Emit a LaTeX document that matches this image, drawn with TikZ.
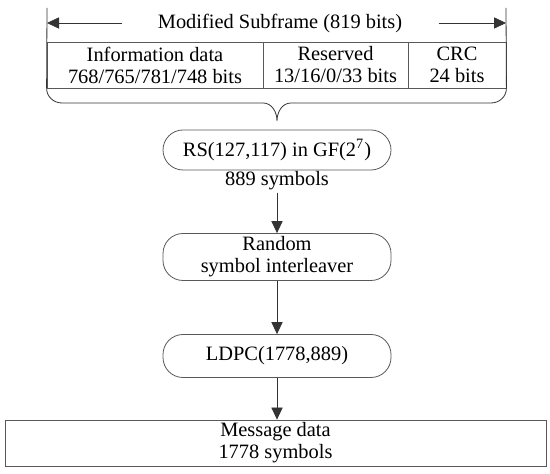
\documentclass[tikz,border=0pt]{standalone}
\usepackage{fontspec}
\setmainfont{Liberation Serif}
\usetikzlibrary{arrows.meta}

\begin{document}
\begin{tikzpicture}[x=0.5pt, y=-0.5pt, every node/.style={font=\fontsize{10.2}{11}\selectfont, align=center}, >={Triangle[length=6pt,width=5.6pt]}, cell/.style={draw=black!65, minimum height=23pt, inner sep=0pt}, stage/.style={draw=black!65, rounded corners=10pt, minimum width=114pt, inner sep=1pt}, line/.style={draw=black!80}]
	\useasboundingbox (0,0) rectangle (550,474);
	% subframe fields
	\node[cell, minimum width=108pt] (info) at (155,65) {Information data\\768/765/781/748 bits};
	\node[cell, minimum width=72.5pt] (res) at (335.5,65) {Reserved\\13/16/0/33 bits};
	\node[cell, minimum width=49pt] (crc) at (457,65) {CRC\\24 bits};
	\node[inner xsep=18pt, inner ysep=1pt] (title) at (280,23) {Modified Subframe (819 bits)};
	\coordinate (tl) at (47,23);
	\coordinate (tr) at (506,23);
	\draw[line] (47,8) -- (info.south west);
	\draw[line] (506,8) -- (crc.south east);
	\draw[->, line] (title.west) -- (tl);
	\draw[->, line] (title.east) -- (tr);
	% brace
	\draw[line] (info.south west) to[out=-90,in=180] (62,103) -- (263,103) to[out=0,in=90] (277,121) to[out=90,in=180] (291,103) -- (491,103) to[out=0,in=-90] (crc.south east);
	% coding chain
	\node[stage, minimum height=20pt] (rs) at (277,150) {RS(127,117) in GF(2\textsuperscript{7})};
	\node[inner sep=1pt] (sym) at (277,181) {889 symbols};
	\node[stage, minimum height=23.5pt] (ril) at (277,257) {Random\\symbol interleaver};
	\node[stage, minimum height=21.5pt] (ldpc) at (277,356) {LDPC(1778,889)};
	\node[cell, minimum width=270.5pt] (msg) at (275.5,443) {Message data\\1778 symbols};
	\draw[->, line] (sym) -- (ril);
	\draw[->, line] (ril) -- (ldpc);
	\draw[->, line] (ldpc) -- (msg.north -| ldpc);
\end{tikzpicture}
\end{document}
